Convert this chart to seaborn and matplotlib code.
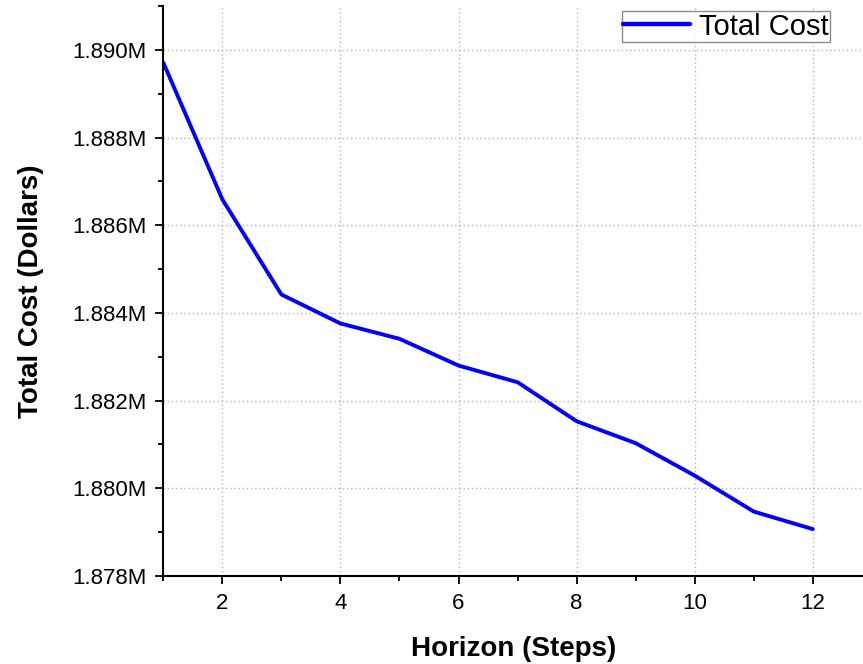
import matplotlib
matplotlib.use("Agg")
import matplotlib.pyplot as plt
import seaborn as sns
import pandas as pd
from matplotlib.ticker import FuncFormatter, MultipleLocator

horizon = [1, 2, 3, 4, 5, 6, 7, 8, 9, 10, 11, 12]
total_cost = [1889710, 1886590, 1884420, 1883760, 1883410, 1882800,
              1882420, 1881530, 1881030, 1880290, 1879470, 1879070]
series_name = "Total Cost"
x_label = "Horizon (Steps)"
y_label = "Total Cost (Dollars)"

df = pd.DataFrame({"Horizon": horizon, "Cost": total_cost, "Series": series_name})

sns.set_style("ticks")
plt.rcParams["font.family"] = ["Liberation Sans", "DejaVu Sans"]
plt.rcParams["text.color"] = "black"
plt.rcParams["axes.labelcolor"] = "black"

fig = plt.figure(figsize=(8.63, 6.64), dpi=100)
ax = fig.add_axes([0.1892, 0.1325, 0.8108, 0.8585])

sns.lineplot(data=df, x="Horizon", y="Cost", hue="Series", palette=["#0000FF"],
             linewidth=2.8, ax=ax)

ax.set_xlim(1, 12.85)
ax.set_ylim(1878000, 1891000)
ax.xaxis.set_major_locator(MultipleLocator(2))
ax.xaxis.set_minor_locator(MultipleLocator(1))
ax.yaxis.set_major_locator(MultipleLocator(2000))
ax.yaxis.set_minor_locator(MultipleLocator(1000))
ax.yaxis.set_major_formatter(FuncFormatter(lambda v, p: f"{v/1e6:.3f}M"))

for s in ["top", "right"]:
    ax.spines[s].set_visible(False)
for s in ["left", "bottom"]:
    ax.spines[s].set_linewidth(1.5)
    ax.spines[s].set_color("black")

ax.tick_params(which="major", direction="out", length=6, width=1.3,
               labelsize=16, colors="black", labelcolor="black", pad=6)
ax.tick_params(which="minor", direction="out", length=3.5, width=1.3, colors="black")

ax.grid(True, which="major", color="#b5b5b5", linestyle=(0, (1, 2)), linewidth=1)
ax.set_axisbelow(True)

ax.set_xlabel(x_label, fontsize=20, fontweight="bold", labelpad=16, color="black")
ax.set_ylabel(y_label, fontsize=20, fontweight="bold", labelpad=20, color="black")

leg = ax.legend(loc="upper right", bbox_to_anchor=(0.953, 0.991), fontsize=21,
                frameon=True, fancybox=False, handlelength=2.3, handletextpad=0.3,
                borderpad=0.05, borderaxespad=0.0)
leg.get_frame().set_edgecolor("#707070")
leg.get_frame().set_linewidth(1.0)
for h in leg.get_lines():
    h.set_linewidth(3.2)
for t in leg.get_texts():
    t.set_color("black")

fig.savefig("out.png", dpi=100)
